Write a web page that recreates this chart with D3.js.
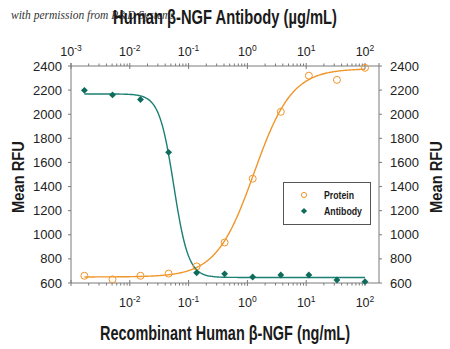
<!DOCTYPE html>
<html><head><meta charset="utf-8">
<script src="https://cdn.jsdelivr.net/npm/d3@7/dist/d3.min.js"></script>
<style>
body{margin:0;background:#fff;}
text{font-family:"Liberation Sans Narrow","Liberation Sans",Arial,sans-serif;}
</style></head>
<body><svg id="c" width="450" height="349"></svg>
<script>
// Data (3-fold dilution series)
const concentrations = [0.00169, 0.00508, 0.0152, 0.0457, 0.137, 0.41, 1.23, 3.7, 11.1, 33.3, 100];
const proteinRFU  = [660, 630, 660, 678, 738, 936, 1465, 2020, 2320, 2285, 2385];
const antibodyRFU = [2198, 2160, 2122, 1684, 685, 676, 650, 666, 666, 625, 611];
// Fitted 4-parameter logistic parameters
const proteinFit  = {bottom: 650, top: 2378, ec50: 1.3, hill: 1.35};
const antibodyFit = {bottom: 646, top: 2168, ec50: 0.056, hill: 3.5};
const yTicks = [600, 800, 1000, 1200, 1400, 1600, 1800, 2000, 2200, 2400];
const topTickExps = [-3, -2, -1, 0, 1, 2];
const bottomTickExps = [-2, -1, 0, 1, 2];
const seriesNames = ["Protein", "Antibody"];

const orange = "#F0962A", teal = "#1B7F73", tealDot = "#0F6B5C", axisCol = "#7a7a7a";
const svg = d3.select("#c");
const L = 71, R = 379, T = 66, B = 283;
const x = d3.scaleLog().domain([0.001, 173]).range([L, R]);
const y = d3.scaleLinear().domain([600, 2400]).range([B, T]);

// watermark
svg.append("text").attr("x", 11).attr("y", 19)
  .style("font-family", "'Liberation Serif','DejaVu Serif',serif").style("font-style", "italic")
  .style("font-size", "11.5px").attr("fill", "#333").text("with permission from R&D Systems");

// axes
const g = svg.append("g");
const minor = [];
for (let e = -3; e <= 2; e++) for (let m = 2; m <= 9; m++) { const v = m * Math.pow(10, e); if (v < 173) minor.push(v); }
const majors = topTickExps.map(e => Math.pow(10, e));

g.append("line").attr("x1", L).attr("x2", R).attr("y1", T).attr("y2", T).attr("stroke", axisCol);
g.append("line").attr("x1", L).attr("x2", R).attr("y1", B).attr("y2", B).attr("stroke", axisCol);
g.append("line").attr("x1", L).attr("x2", L).attr("y1", T - 3).attr("y2", B).attr("stroke", axisCol);
g.append("line").attr("x1", R).attr("x2", R).attr("y1", T - 3).attr("y2", B).attr("stroke", axisCol);

// top ticks
g.selectAll(".tmin").data(minor).join("line").attr("x1", d => x(d)).attr("x2", d => x(d))
  .attr("y1", T).attr("y2", T - 2.5).attr("stroke", axisCol);
g.selectAll(".tmaj").data(majors).join("line").attr("x1", d => x(d)).attr("x2", d => x(d))
  .attr("y1", T + 3).attr("y2", T - 3).attr("stroke", axisCol);
// bottom ticks
g.selectAll(".bmin").data(minor).join("line").attr("x1", d => x(d)).attr("x2", d => x(d))
  .attr("y1", B).attr("y2", B + 2.5).attr("stroke", axisCol);
g.selectAll(".bmaj").data(majors).join("line").attr("x1", d => x(d)).attr("x2", d => x(d))
  .attr("y1", B - 3).attr("y2", B + 3).attr("stroke", axisCol);
// y ticks
g.selectAll(".yl").data(yTicks).join("line").attr("x1", L - 3).attr("x2", L).attr("y1", d => y(d)).attr("y2", d => y(d)).attr("stroke", axisCol);
g.selectAll(".yr").data(yTicks).join("line").attr("x1", R).attr("x2", R + 3).attr("y1", d => y(d)).attr("y2", d => y(d)).attr("stroke", axisCol);

function powLabel(sel, exps, yy) {
  const t = sel.selectAll(null).data(exps).join("text")
    .attr("x", d => x(Math.pow(10, d))).attr("y", yy).attr("text-anchor", "middle")
    .style("font-size", "12.5px").attr("fill", "#222");
  t.append("tspan").text("10");
  t.append("tspan").attr("dy", -5).style("font-size", "8.5px").text(d => d < 0 ? "-" + (-d) : d);
}
powLabel(svg, topTickExps, 56);
powLabel(svg, bottomTickExps, 307);

svg.selectAll(".ylab").data(yTicks).join("text").attr("x", 62).attr("y", d => y(d) + 4.5)
  .attr("text-anchor", "end").style("font-size", "13px").attr("fill", "#222").text(d => d);
svg.selectAll(".yrab").data(yTicks).join("text").attr("x", 390).attr("y", d => y(d) + 4.5)
  .attr("text-anchor", "start").style("font-size", "13px").attr("fill", "#222").text(d => d);

// titles
svg.append("text").attr("x", 225).attr("y", 24).attr("text-anchor", "middle")
  .style("font-size", "19.5px").style("font-weight", "bold").attr("fill", "#1a1a1a")
  .attr("textLength", 224).attr("lengthAdjust", "spacingAndGlyphs")
  .text("Human β-NGF Antibody (µg/mL)");
svg.append("text").attr("x", 225).attr("y", 340).attr("text-anchor", "middle")
  .style("font-size", "20.5px").style("font-weight", "bold").attr("fill", "#1a1a1a")
  .attr("textLength", 250).attr("lengthAdjust", "spacingAndGlyphs")
  .text("Recombinant Human β-NGF (ng/mL)");
svg.append("text").attr("transform", "translate(24,177) rotate(-90)").attr("text-anchor", "middle")
  .style("font-size", "17px").style("font-weight", "bold").attr("fill", "#1a1a1a")
  .attr("textLength", 72).attr("lengthAdjust", "spacingAndGlyphs").text("Mean RFU");
svg.append("text").attr("transform", "translate(442,177) rotate(-90)").attr("text-anchor", "middle")
  .style("font-size", "17px").style("font-weight", "bold").attr("fill", "#1a1a1a")
  .attr("textLength", 72).attr("lengthAdjust", "spacingAndGlyphs").text("Mean RFU");

// curves
const fine = d3.range(0, 301).map(i => Math.pow(10, Math.log10(concentrations[0]) + i / 300 * (Math.log10(100) - Math.log10(concentrations[0]))));
const up = p => c => p.bottom + (p.top - p.bottom) / (1 + Math.pow(p.ec50 / c, p.hill));
const down = p => c => p.bottom + (p.top - p.bottom) / (1 + Math.pow(c / p.ec50, p.hill));
const line = d3.line().x(d => x(d[0])).y(d => y(d[1]));
const fp = up(proteinFit), fa = down(antibodyFit);
svg.append("path").attr("d", line(fine.map(c => [c, fp(c)]))).attr("fill", "none").attr("stroke", orange).attr("stroke-width", 1.4);
svg.append("path").attr("d", line(fine.map(c => [c, fa(c)]))).attr("fill", "none").attr("stroke", teal).attr("stroke-width", 1.4);

// points
svg.selectAll(".pp").data(concentrations).join("circle").attr("cx", d => x(d)).attr("cy", (d, i) => y(proteinRFU[i]))
  .attr("r", 3.5).attr("fill", "none").attr("stroke", orange).attr("stroke-width", 1);
const diamond = d3.symbol().type(d3.symbolDiamond2 || d3.symbolDiamond).size(30);
svg.selectAll(".ap").data(concentrations).join("path").attr("d", diamond)
  .attr("transform", (d, i) => `translate(${x(d)},${y(antibodyRFU[i])})`).attr("fill", tealDot);

// legend
const lg = svg.append("g");
lg.append("rect").attr("x", 283.5).attr("y", 182.5).attr("width", 87).attr("height", 42)
  .attr("fill", "#fff").attr("stroke", "#555").attr("stroke-width", 1);
lg.append("circle").attr("cx", 304).attr("cy", 195).attr("r", 2.6).attr("fill", "none").attr("stroke", orange).attr("stroke-width", 1);
lg.append("path").attr("d", d3.symbol().type(d3.symbolDiamond2 || d3.symbolDiamond).size(24)).attr("transform", "translate(304,211)").attr("fill", tealDot);
const legendWidths = [30, 38];
lg.selectAll(".lt").data(seriesNames).join("text").attr("x", 324).attr("y", (d, i) => 199 + i * 16)
  .style("font-size", "11.5px").style("font-weight", "bold").attr("fill", "#1a1a1a")
  .attr("textLength", (d, i) => legendWidths[i]).attr("lengthAdjust", "spacingAndGlyphs").text(d => d);
</script></body></html>
